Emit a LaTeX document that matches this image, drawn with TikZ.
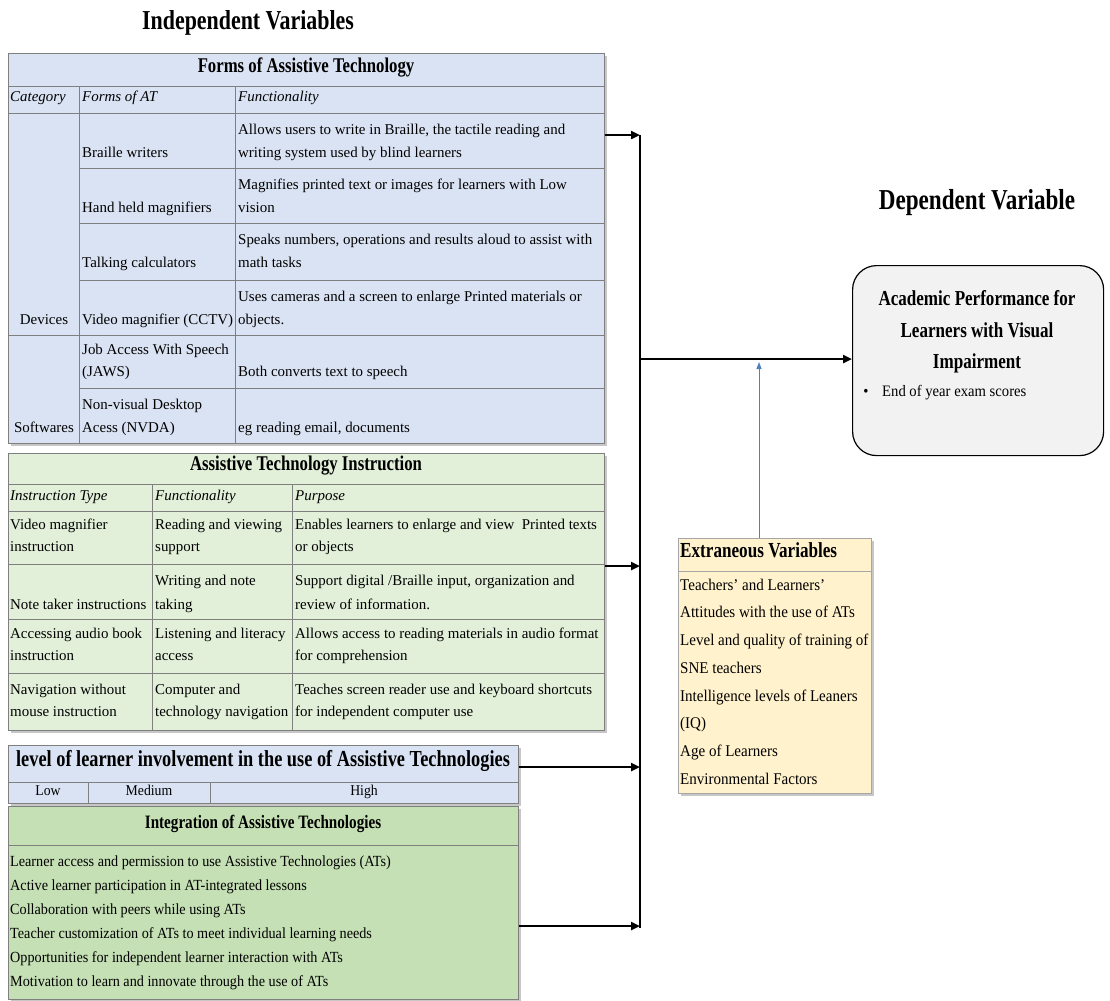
\documentclass[tikz,border=0pt]{standalone}
\usepackage{fontspec}
\setmainfont{Liberation Serif}
\newfontfamily\bcond{Liberation Serif}[FakeStretch=0.8]
\newfontfamily\rcond{Liberation Serif}[FakeStretch=0.92]
\usetikzlibrary{arrows.meta,shadows}
\definecolor{blueF}{HTML}{DAE3F3}
\definecolor{greenL}{HTML}{E2EFD9}
\definecolor{greenD}{HTML}{C5E0B4}
\definecolor{yellowF}{HTML}{FFF2CC}
\definecolor{grayF}{HTML}{F2F2F2}
\definecolor{gridC}{HTML}{7F7F7F}
\definecolor{extC}{HTML}{A6A6A6}
\definecolor{blueA}{HTML}{4F81BD}
\begin{document}
\begin{tikzpicture}[x=1bp,y=-1bp,
  tbl/.style={draw=gridC, line width=1.3bp, inner sep=0pt, anchor=north west, rectangle,
    drop shadow={shadow xshift=2bp, shadow yshift=-2bp, fill=black, opacity=0.22}},
  grid/.style={draw=gridC, line width=1bp},
  txt/.style={anchor=mid west, inner sep=0pt, font=\fontsize{15}{18}\selectfont},
  ctxt/.style={anchor=mid, inner sep=0pt, font=\fontsize{15}{18}\selectfont},
  it/.style={anchor=mid west, inner sep=0pt, font=\fontsize{15}{18}\selectfont\itshape},
  hd/.style={anchor=mid, inner sep=0pt, font=\fontsize{21}{24}\selectfont\bcond\bfseries},
  ltxt/.style={anchor=mid west, inner sep=0pt, font=\fontsize{15.5}{18}\selectfont\rcond},
  etxt/.style={anchor=mid west, inner sep=0pt, font=\fontsize{16.4}{19}\selectfont\rcond},
  bus/.style={line width=2.4bp, draw=black},
  busarrow/.style={bus, -{Triangle[length=9bp,width=8bp]}},
  bluearrow/.style={draw=blueA, line width=1bp, -{Triangle[length=7bp,width=5bp]}}
]
\useasboundingbox[fill=white] (0,0) rectangle (1110,1001);

% ---------- titles ----------
\node[anchor=mid, inner sep=0pt, font=\fontsize{27.5}{30}\selectfont\bcond\bfseries] (tind) at (248,27) {Independent Variables};
\node[anchor=mid, inner sep=0pt, font=\fontsize{29}{32}\selectfont\bcond\bfseries] (tdep) at (977,207) {Dependent Variable};

% ---------- Table 1 ----------
\node[tbl, fill=blueF, minimum width=596bp, minimum height=390bp] (t1) at (8,53) {};
\draw[grid] (8,86) -- (604,86);
\draw[grid] (8,113) -- (604,113);
\draw[grid] (79,86) -- (79,443);
\draw[grid] (235,86) -- (235,443);
\foreach \yy in {168,223,280,388} \draw[grid] (79,\yy) -- (604,\yy);
\draw[grid] (8,335) -- (604,335);

\node[hd] (h1) at (306,70) {Forms of Assistive Technology};
\node[it] (c1) at (10,99) {Category};
\node[it] (c2) at (82,99) {Forms of AT};
\node[it] (c3) at (238,99) {Functionality};

\node[txt] (a1) at (82,155) {Braille writers};
\node[txt] (a2) at (238,132) {Allows users to write in Braille, the tactile reading and};
\node[txt] (a3) at (238,155) {writing system used by blind learners};
\node[txt] (a4) at (82,210) {Hand held magnifiers};
\node[txt] (a5) at (238,187) {Magnifies printed text or images for learners with Low};
\node[txt] (a6) at (238,210) {vision};
\node[txt] (a7) at (82,265) {Talking calculators};
\node[txt] (a8) at (238,242) {Speaks numbers, operations and results aloud to assist with};
\node[txt] (a9) at (238,265) {math tasks};
\node[txt] (a10) at (82,322) {Video magnifier (CCTV)};
\node[txt] (a11) at (238,299) {Uses cameras and a screen to enlarge Printed materials or};
\node[txt] (a12) at (238,322) {objects.};
\node[ctxt] (a13) at (44,322) {Devices};
\node[txt] (a14) at (82,352) {Job Access With Speech};
\node[txt] (a15) at (82,374) {(JAWS)};
\node[txt] (a16) at (238,374) {Both converts text to speech};
\node[txt] (a17) at (82,407) {Non-visual Desktop};
\node[txt] (a18) at (82,430) {Acess (NVDA)};
\node[txt] (a19) at (238,430) {eg reading email, documents};
\node[ctxt] (a20) at (44,430) {Softwares};

% ---------- Table 2 ----------
\node[tbl, fill=greenL, minimum width=596bp, minimum height=277bp] (t2) at (8,453) {};
\draw[grid] (8,484) -- (604,484);
\draw[grid] (8,511) -- (604,511);
\draw[grid] (152,484) -- (152,730);
\draw[grid] (292,484) -- (292,730);
\foreach \yy in {564,619,673} \draw[grid] (8,\yy) -- (604,\yy);

\node[hd] (h2) at (306,468) {Assistive Technology Instruction};
\node[it] (d1) at (10,498) {Instruction Type};
\node[it] (d2) at (155,498) {Functionality};
\node[it] (d3) at (295,498) {Purpose};

\node[txt] (b1) at (10,527) {Video magnifier};
\node[txt] (b2) at (10,549) {instruction};
\node[txt] (b3) at (155,527) {Reading and viewing};
\node[txt] (b4) at (155,549) {support};
\node[txt] (b5) at (295,527) {Enables learners to enlarge and view\ \ Printed texts};
\node[txt] (b6) at (295,549) {or objects};
\node[txt] (b7) at (10,607) {Note taker instructions};
\node[txt] (b8) at (155,583) {Writing and note};
\node[txt] (b9) at (155,607) {taking};
\node[txt] (b10) at (295,583) {Support digital /Braille input, organization and};
\node[txt] (b11) at (295,607) {review of information.};
\node[txt] (b12) at (10,636) {Accessing audio book};
\node[txt] (b13) at (10,658) {instruction};
\node[txt] (b14) at (155,636) {Listening and literacy};
\node[txt] (b15) at (155,658) {access};
\node[txt] (b16) at (295,636) {Allows access to reading materials in audio format};
\node[txt] (b17) at (295,658) {for comprehension};
\node[txt] (b18) at (10,692) {Navigation without};
\node[txt] (b19) at (10,714) {mouse instruction};
\node[txt] (b20) at (155,692) {Computer and};
\node[txt] (b21) at (155,714) {technology navigation};
\node[txt] (b22) at (295,692) {Teaches screen reader use and keyboard shortcuts};
\node[txt] (b23) at (295,714) {for independent computer use};

% ---------- Level of involvement ----------
\node[tbl, fill=blueF, minimum width=510bp, minimum height=58bp] (lv) at (8,745) {};
\draw[grid] (8,782) -- (518,782);
\draw[grid] (88,782) -- (88,803);
\draw[grid] (210,782) -- (210,803);
\node[anchor=mid, inner sep=0pt, font=\fontsize{23}{26}\selectfont\bcond\bfseries] (h3) at (263,764) {level of learner involvement in the use of Assistive Technologies};
\node[anchor=mid, inner sep=0pt, font=\fontsize{15}{18}\selectfont\rcond] (l1) at (48,793) {Low};
\node[anchor=mid, inner sep=0pt, font=\fontsize{15}{18}\selectfont\rcond] (l2) at (149,793) {Medium};
\node[anchor=mid, inner sep=0pt, font=\fontsize{15}{18}\selectfont\rcond] (l3) at (364,793) {High};

% ---------- Integration ----------
\node[tbl, fill=greenD, minimum width=510bp, minimum height=193bp] (ig) at (8,806) {};
\draw[grid] (8,845) -- (518,845);
\node[anchor=mid, inner sep=0pt, font=\fontsize{19}{22}\selectfont\bcond\bfseries] (h4) at (263,826) {Integration of Assistive Technologies};
\node[ltxt] (g1) at (10,864) {Learner access and permission to use Assistive Technologies (ATs)};
\node[ltxt] (g2) at (10,888) {Active learner participation in AT-integrated lessons};
\node[ltxt] (g3) at (10,912) {Collaboration with peers while using ATs};
\node[ltxt] (g4) at (10,936) {Teacher customization of ATs to meet individual learning needs};
\node[ltxt] (g5) at (10,960) {Opportunities for independent learner interaction with ATs};
\node[ltxt] (g6) at (10,984) {Motivation to learn and innovate through the use of ATs};

% ---------- Extraneous ----------
\node[tbl, draw=extC, fill=yellowF, minimum width=193bp, minimum height=255bp] (ex) at (678,538) {};
\draw[draw=extC, line width=1bp] (678,571) -- (871,571);
\node[anchor=mid west, inner sep=0pt, font=\fontsize{21.5}{24}\selectfont\bcond\bfseries] (h5) at (680,555) {Extraneous Variables};
\node[etxt] (e1) at (680,588) {Teachers’ and Learners’};
\node[etxt] (e2) at (680,615.7) {Attitudes with the use of ATs};
\node[etxt] (e3) at (680,643.4) {Level and quality of training of};
\node[etxt] (e4) at (680,671.1) {SNE teachers};
\node[etxt] (e5) at (680,698.8) {Intelligence levels of Leaners};
\node[etxt] (e6) at (680,726.5) {(IQ)};
\node[etxt] (e7) at (680,754.2) {Age of Learners};
\node[etxt] (e8) at (680,781.9) {Environmental Factors};

% ---------- Dependent ----------
\node[draw=black, line width=1.2bp, fill=grayF, rounded corners=24bp, minimum width=251bp, minimum height=190bp, anchor=north west, inner sep=0pt] (dp) at (852,265) {};
\node[anchor=mid, inner sep=0pt, font=\fontsize{21.4}{24}\selectfont\bcond\bfseries] (p1) at (977,303) {Academic Performance for};
\node[anchor=mid, inner sep=0pt, font=\fontsize{21.4}{24}\selectfont\bcond\bfseries] (p2) at (977,335) {Learners with Visual};
\node[anchor=mid, inner sep=0pt, font=\fontsize{21.4}{24}\selectfont\bcond\bfseries] (p3) at (977,366) {Impairment};
\node[anchor=mid, inner sep=0pt, font=\fontsize{16}{19}\selectfont\rcond] (p4) at (866,394) {\textbullet};
\node[anchor=mid west, inner sep=0pt, font=\fontsize{16}{19}\selectfont\rcond] (p5) at (882,394) {End of year exam scores};

% ---------- connectors ----------
\coordinate (bT) at (640,135);
\coordinate (bB) at (640,928);
\coordinate (bM) at (640,359);
\coordinate (b2) at (640,566);
\coordinate (b3) at (640,767);
\coordinate (b4) at (640,926);
\coordinate (xb) at (759,362);
\draw[bus] (bT) -- (bB);
\draw[busarrow] (t1.east |- bT) -- (bT);
\draw[busarrow] (t2.east |- b2) -- (b2);
\draw[busarrow] (lv.east |- b3) -- (b3);
\draw[busarrow] (ig.east |- b4) -- (b4);
\draw[busarrow] (bM) -- (dp.west |- bM);
\draw[bluearrow] (ex.north -| xb) -- (xb);
\end{tikzpicture}
\end{document}
